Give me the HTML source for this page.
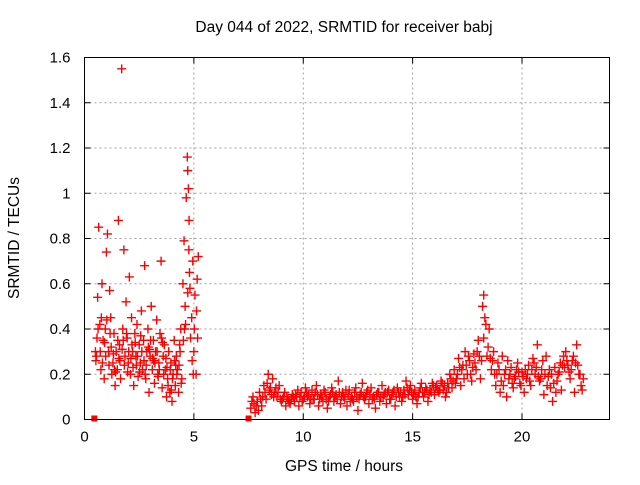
<!DOCTYPE html>
<html><head><meta charset="utf-8"><style>
body{margin:0;background:#fff;}
svg text{font-family:"Liberation Sans",sans-serif;fill:#000;}
</style></head><body>
<svg id="chart" width="640" height="480" viewBox="0 0 640 480" xmlns="http://www.w3.org/2000/svg">
<rect width="640" height="480" fill="#fff"/>
<text x="344" y="32" font-size="15.5" text-anchor="middle">Day 044 of 2022, SRMTID for receiver babj</text>
<text x="344" y="471" font-size="15.5" text-anchor="middle">GPS time / hours</text>
<text x="0" y="0" font-size="15.5" text-anchor="middle" transform="translate(19,238) rotate(-90)">SRMTID / TECUs</text>
<g id="grid"></g><g id="ticks"></g><g id="marks"></g>
<rect x="84.5" y="57.5" width="525" height="362" fill="none" stroke="#000" stroke-width="1"/>
</svg>
<script>
const xTicks=[0,5,10,15,20];
const yTicks=[0,0.2,0.4,0.6,0.8,1,1.2,1.4,1.6];
const yTickLabels=["0","0.2","0.4","0.6","0.8","1","1.2","1.4","1.6"];
const zeroTimes=[0.45,7.5];
const t1=[0.5,0.55,0.6,0.65,0.7,0.75,0.8,0.85,0.9,0.95,1.0,1.05,1.1,1.15,1.2,1.25,1.3,1.35,1.4,1.45,1.5,1.55,1.6,1.65,1.7,1.75,1.8,1.85,1.9,1.95,2.0,2.05,2.1,2.15,2.2,2.25,2.3,2.35,2.4,2.45,2.5,2.55,2.6,2.65,2.7,2.75,2.8,2.85,2.9,2.95,3.0,3.05,3.1,3.15,3.2,3.25,3.3,3.35,3.4,3.45,3.5,3.55,3.6,3.65,3.7,3.75,3.8,3.85,3.9,3.95,4.0,4.05,4.1,4.15,4.2,4.25,4.3,4.35,4.4,4.45,4.5,4.55,4.6,4.65,4.7,4.72,4.75,4.78,4.8,4.85,4.9,4.95,5.0,5.05,5.1,5.15,5.2];
const v1=[0.30,0.28,0.54,0.85,0.42,0.22,0.60,0.35,0.18,0.40,0.74,0.82,0.30,0.57,0.45,0.20,0.25,0.38,0.15,0.30,0.22,0.88,0.33,0.18,1.55,0.40,0.75,0.28,0.52,0.36,0.25,0.63,0.20,0.45,0.30,0.15,0.38,0.28,0.42,0.19,0.33,0.25,0.48,0.22,0.35,0.68,0.18,0.30,0.40,0.12,0.28,0.50,0.22,0.35,0.16,0.30,0.44,0.20,0.25,0.38,0.70,0.14,0.28,0.33,0.22,0.10,0.18,0.30,0.12,0.25,0.08,0.20,0.35,0.15,0.28,0.22,0.12,0.33,0.40,0.18,0.60,0.79,0.50,0.98,1.16,1.10,1.02,0.88,0.65,0.36,0.45,0.70,0.30,0.55,0.20,0.62,0.72];
const t2=[0.52,0.62,0.72,0.82,0.92,1.02,1.12,1.22,1.32,1.42,1.52,1.62,1.72,1.82,1.92,2.02,2.12,2.22,2.32,2.42,2.52,2.62,2.72,2.82,2.92,3.02,3.12,3.22,3.32,3.42,3.52,3.62,3.72,3.82,3.92,4.02,4.12,4.22,4.32,4.42,4.52,4.62,4.72,4.82,4.92,5.02,5.12];
const v2=[0.26,0.40,0.30,0.25,0.34,0.44,0.24,0.32,0.29,0.21,0.35,0.26,0.31,0.24,0.38,0.30,0.27,0.23,0.34,0.28,0.21,0.30,0.26,0.24,0.32,0.35,0.27,0.25,0.30,0.22,0.36,0.20,0.27,0.15,0.22,0.18,0.26,0.20,0.24,0.16,0.35,0.42,0.56,0.58,0.26,0.40,0.48];
const t2b=[0.57,0.77,0.97,1.17,1.37,1.57,1.77,1.97,2.17,2.37,2.57,2.77,2.97,3.17,3.37,3.57,3.77,3.97,4.17,4.37,4.57,4.77,4.97,5.17];
const v2b=[0.36,0.45,0.28,0.38,0.22,0.27,0.35,0.21,0.33,0.24,0.37,0.20,0.31,0.26,0.19,0.34,0.23,0.13,0.24,0.30,0.40,0.75,0.20,0.36];
const t3=[7.6,7.7,7.8,7.9,8.0,8.1,8.2,8.3,8.4,8.5,8.6,8.7,8.8,8.9,9.0,9.1,9.2,9.3,9.4,9.5,9.6,9.7,9.8,9.9,10.0,10.1,10.2,10.3,10.4,10.5,10.6,10.7,10.8,10.9,11.0,11.1,11.2,11.3,11.4,11.5,11.6,11.7,11.8,11.9,12.0,12.1,12.2,12.3,12.4,12.5,12.6,12.7,12.8,12.9,13.0,13.1,13.2,13.3,13.4,13.5,13.6,13.7,13.8,13.9,14.0,14.1,14.2,14.3,14.4,14.5,14.6,14.7,14.8,14.9,15.0,15.1,15.2,15.3,15.4,15.5,15.6,15.7,15.8,15.9,16.0,16.1,16.2,16.3,16.4,16.5,16.6,16.7,16.8,16.9,17.0,17.1,17.2,17.3,17.4,17.5,17.6,17.7,17.8,17.9,18.0,18.1,18.2,18.25,18.3,18.4,18.5,18.6,18.7,18.8,18.9,19.0,19.1,19.2,19.3,19.4,19.5,19.6,19.7,19.8,19.9,20.0,20.1,20.2,20.3,20.4,20.5,20.6,20.7,20.8,20.9,21.0,21.1,21.2,21.3,21.4,21.5,21.6,21.7,21.8,21.9,22.0,22.1,22.2,22.3,22.4,22.5,22.6,22.7,22.8];
const v3=[0.05,0.10,0.03,0.08,0.12,0.06,0.15,0.09,0.20,0.14,0.18,0.12,0.10,0.15,0.08,0.10,0.06,0.09,0.07,0.11,0.08,0.10,0.06,0.12,0.09,0.14,0.10,0.07,0.13,0.09,0.15,0.06,0.11,0.08,0.12,0.05,0.10,0.14,0.08,0.11,0.17,0.07,0.12,0.09,0.06,0.13,0.10,0.08,0.14,0.04,0.11,0.16,0.09,0.12,0.07,0.14,0.10,0.05,0.12,0.08,0.15,0.11,0.07,0.13,0.09,0.12,0.06,0.14,0.10,0.08,0.13,0.17,0.11,0.15,0.09,0.13,0.07,0.12,0.16,0.10,0.14,0.08,0.13,0.16,0.11,0.15,0.12,0.17,0.13,0.10,0.16,0.20,0.14,0.22,0.18,0.27,0.15,0.24,0.30,0.20,0.26,0.17,0.29,0.22,0.35,0.18,0.50,0.55,0.45,0.28,0.40,0.22,0.30,0.15,0.25,0.12,0.28,0.20,0.10,0.18,0.23,0.14,0.19,0.25,0.16,0.21,0.12,0.18,0.24,0.15,0.27,0.20,0.33,0.17,0.22,0.11,0.28,0.19,0.14,0.08,0.23,0.17,0.21,0.13,0.28,0.30,0.24,0.18,0.26,0.12,0.33,0.20,0.15,0.18];
const t4=[7.65,7.85,8.05,8.25,8.45,8.65,8.85,9.05,9.25,9.45,9.65,9.85,10.05,10.25,10.45,10.65,10.85,11.05,11.25,11.45,11.65,11.85,12.05,12.25,12.45,12.65,12.85,13.05,13.25,13.45,13.65,13.85,14.05,14.25,14.45,14.65,14.85,15.05,15.25,15.45,15.65,15.85,16.05,16.25,16.45,16.65,16.85,17.05,17.25,17.45,17.65,17.85,18.05,18.25,18.45,18.65,18.85,19.05,19.25,19.45,19.65,19.85,20.05,20.25,20.45,20.65,20.85,21.05,21.25,21.45,21.65,21.85,22.05,22.25,22.45,22.65];
const v4=[0.08,0.06,0.09,0.12,0.13,0.10,0.12,0.09,0.10,0.09,0.11,0.10,0.10,0.11,0.09,0.11,0.10,0.09,0.11,0.10,0.12,0.10,0.11,0.09,0.10,0.12,0.10,0.11,0.09,0.12,0.10,0.12,0.11,0.10,0.12,0.11,0.13,0.11,0.10,0.12,0.13,0.12,0.14,0.13,0.15,0.14,0.17,0.20,0.22,0.24,0.20,0.25,0.28,0.36,0.32,0.26,0.20,0.17,0.22,0.20,0.18,0.21,0.19,0.20,0.22,0.23,0.18,0.20,0.22,0.16,0.20,0.24,0.26,0.22,0.25,0.20];
const t5=[7.75,7.95,8.15,8.35,8.55,8.75,8.95,9.15,9.35,9.55,9.75,9.95,10.15,10.35,10.55,10.75,10.95,11.15,11.35,11.55,11.75,11.95,12.15,12.35,12.55,12.75,12.95,13.15,13.35,13.55,13.75,13.95,14.15,14.35,14.55,14.75,14.95,15.15,15.35,15.55,15.75,15.95,16.15,16.35,16.55,16.75,16.95,17.15,17.35,17.55,17.75,17.95,18.15,18.35,18.55,18.75,18.95,19.15,19.35,19.55,19.75,19.95,20.15,20.35,20.55,20.75,20.95,21.15,21.35,21.55,21.75,21.95,22.15,22.35,22.55,22.75];
const v5=[0.07,0.04,0.10,0.16,0.11,0.14,0.09,0.12,0.08,0.10,0.13,0.08,0.12,0.09,0.12,0.09,0.13,0.08,0.12,0.09,0.10,0.13,0.08,0.12,0.09,0.10,0.13,0.09,0.11,0.10,0.12,0.09,0.13,0.12,0.10,0.14,0.12,0.10,0.14,0.12,0.11,0.15,0.13,0.16,0.12,0.18,0.16,0.23,0.18,0.28,0.23,0.30,0.26,0.42,0.27,0.20,0.22,0.15,0.26,0.16,0.22,0.15,0.22,0.17,0.25,0.19,0.26,0.15,0.20,0.12,0.25,0.23,0.21,0.28,0.24,0.13];
const X0=84.5,X1=609.5,Y0=419.5,Y1=57.5,XMAX=24,YMAX=1.6;
function xs(t){return X0+t/XMAX*(X1-X0);}
function ys(v){return Y0-v/YMAX*(Y0-Y1);}
const NS="http://www.w3.org/2000/svg";
const grid=document.getElementById('grid'),ticks=document.getElementById('ticks'),marks=document.getElementById('marks');
function mk(tag,attrs,parent){const e=document.createElementNS(NS,tag);for(const k in attrs)e.setAttribute(k,attrs[k]);parent.appendChild(e);return e;}
xTicks.forEach(t=>{
  const x=xs(t);
  if(t>0){const g=mk('line',{x1:x,x2:x,y1:Y1,y2:Y0,stroke:'#a0a0a0','stroke-dasharray':'2,3'},grid);
  
  }
  mk('line',{x1:x,x2:x,y1:Y0,y2:Y0-6,stroke:'#000'},ticks);
  mk('line',{x1:x,x2:x,y1:Y1,y2:Y1+6,stroke:'#000'},ticks);
  const l=mk('text',{x:x,y:Y0+22,'font-size':15,'text-anchor':'middle'},ticks);
  l.textContent=String(t);
  
  
});
yTicks.forEach((v,i)=>{
  const y=ys(v);
  if(v>0&&v<YMAX){const g=mk('line',{x1:X0,x2:X1,y1:y,y2:y,stroke:'#a0a0a0','stroke-dasharray':'2,3'},grid);
  
  }
  mk('line',{x1:X0,x2:X0+6,y1:y,y2:y,stroke:'#000'},ticks);
  mk('line',{x1:X1,x2:X1-6,y1:y,y2:y,stroke:'#000'},ticks);
  const l=mk('text',{x:X0-14,y:y+5,'font-size':15,'text-anchor':'end'},ticks);
  l.textContent=yTickLabels[i];
  
  
});
function plus(ts,vs,name){
  let d='';
  for(let i=0;i<ts.length;i++){const x=xs(ts[i]),y=ys(vs[i]);d+=`M${x-4.5},${y}h9M${x},${y-4.5}v9`;}
  const p=mk('path',{d:d,stroke:'#ff0000','stroke-width':1.4,fill:'none'},marks);
  
  
}
plus(t1,v1,'srmtid-points-early');
plus(t2,v2,'srmtid-points-early-dense');
plus(t2b,v2b,'srmtid-points-early-extra');
plus(t3,v3,'srmtid-points-late');
plus(t4,v4,'srmtid-points-late-dense');
plus(t5,v5,'srmtid-points-late-extra');
zeroTimes.forEach(t=>{
  const r=mk('rect',{x:xs(t)-3,y:Y0-4,width:6,height:6,fill:'#ff0000'},marks);
  
  
});
</script>
</body></html>
